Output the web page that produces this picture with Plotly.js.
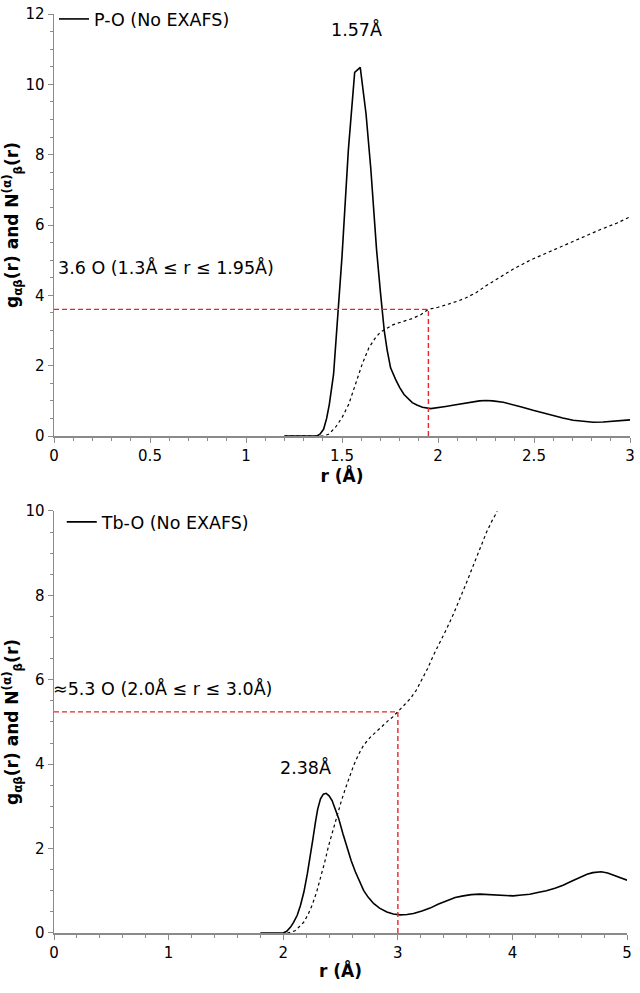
<!DOCTYPE html>
<html>
<head>
<meta charset="utf-8">
<script src="https://cdn.plot.ly/plotly-3.0.1.min.js"></script>
<style>html,body{margin:0;padding:0;background:#fff;}#chart{width:640px;height:993px;}</style>
</head>
<body>
<div id="chart"></div>
<script>
// ---- Top panel: P-O ----
const rPO = [1.20, 1.30, 1.37, 1.385, 1.404, 1.42, 1.434, 1.456, 1.479, 1.50, 1.533, 1.566, 1.595, 1.625, 1.65, 1.68, 1.70, 1.72, 1.735, 1.753, 1.779, 1.80, 1.823, 1.845, 1.866, 1.89, 1.919, 1.962, 2.0, 2.04, 2.085, 2.128, 2.17, 2.216, 2.25, 2.285, 2.34, 2.39, 2.44, 2.495, 2.55, 2.60, 2.65, 2.704, 2.76, 2.809, 2.86, 2.914, 2.96, 3.0];
const gPO = [0, 0, 0, 0.05, 0.19, 0.5, 0.90, 1.75, 3.36, 5.1, 8.13, 10.34, 10.48, 9.17, 7.6, 5.3, 4.1, 3.0, 2.45, 1.94, 1.61, 1.38, 1.18, 1.05, 0.95, 0.88, 0.82, 0.78, 0.80, 0.84, 0.88, 0.92, 0.96, 1.0, 1.01, 1.0, 0.96, 0.9, 0.82, 0.73, 0.65, 0.57, 0.51, 0.45, 0.41, 0.39, 0.40, 0.42, 0.44, 0.46];
const rPO_N = [1.20, 1.40, 1.43, 1.465, 1.50, 1.535, 1.57, 1.605, 1.64, 1.675, 1.70, 1.727, 1.76, 1.797, 1.83, 1.866, 1.91, 1.95, 2.0, 2.04, 2.1, 2.146, 2.2, 2.25, 2.32, 2.39, 2.48, 2.565, 2.65, 2.75, 2.85, 2.93, 3.0];
const nPO = [0, 0, 0.05, 0.24, 0.52, 0.9, 1.47, 2.04, 2.51, 2.8, 2.95, 3.05, 3.15, 3.22, 3.28, 3.34, 3.45, 3.6, 3.66, 3.72, 3.83, 3.93, 4.08, 4.27, 4.5, 4.74, 5.0, 5.2, 5.4, 5.65, 5.88, 6.05, 6.23];
const cutPO = {r: 1.95, n: 3.6};

// ---- Bottom panel: Tb-O ----
const rTbO = [1.80, 2.0, 2.03, 2.064, 2.09, 2.122, 2.15, 2.18, 2.21, 2.238, 2.26, 2.281, 2.30, 2.325, 2.35, 2.374, 2.40, 2.426, 2.455, 2.484, 2.52, 2.557, 2.593, 2.629, 2.665, 2.701, 2.74, 2.788, 2.84, 2.904, 2.96, 3.02, 3.08, 3.136, 3.21, 3.281, 3.35, 3.426, 3.5, 3.571, 3.64, 3.716, 3.79, 3.861, 3.93, 4.006, 4.08, 4.151, 4.22, 4.296, 4.37, 4.441, 4.51, 4.586, 4.65, 4.701, 4.774, 4.83, 4.875, 4.94, 5.0];
const gTbO = [0, 0, 0.04, 0.14, 0.25, 0.42, 0.65, 0.97, 1.4, 1.84, 2.25, 2.63, 2.93, 3.18, 3.29, 3.31, 3.25, 3.14, 2.93, 2.71, 2.36, 2.0, 1.71, 1.45, 1.22, 1.01, 0.85, 0.70, 0.59, 0.50, 0.45, 0.43, 0.44, 0.46, 0.52, 0.59, 0.68, 0.77, 0.84, 0.88, 0.91, 0.92, 0.91, 0.89, 0.88, 0.88, 0.9, 0.92, 0.96, 1.0, 1.06, 1.13, 1.22, 1.31, 1.39, 1.43, 1.45, 1.42, 1.38, 1.32, 1.25];
const rTbO_N = [2.035, 2.07, 2.107, 2.14, 2.18, 2.215, 2.252, 2.29, 2.325, 2.36, 2.397, 2.433, 2.47, 2.506, 2.542, 2.578, 2.614, 2.655, 2.701, 2.76, 2.817, 2.87, 2.919, 2.96, 3.0, 3.05, 3.107, 3.16, 3.209, 3.26, 3.31, 3.37, 3.426, 3.485, 3.542, 3.6, 3.658, 3.716, 3.774, 3.82, 3.867];
const nTbO = [0, 0.02, 0.06, 0.14, 0.26, 0.43, 0.66, 0.96, 1.29, 1.66, 2.08, 2.44, 2.79, 3.12, 3.42, 3.71, 3.97, 4.22, 4.45, 4.64, 4.79, 4.92, 5.04, 5.13, 5.24, 5.37, 5.55, 5.75, 5.99, 6.27, 6.58, 6.9, 7.21, 7.56, 7.92, 8.31, 8.71, 9.1, 9.5, 9.76, 9.99];
const cutTbO = {r: 3.0, n: 5.24};

const FONT = 'DejaVu Sans, sans-serif';
const RED = '#e8242c';
const AXC = '#8a8a8a';
const ANN = 17.5;

const traces = [
  {x: rPO, y: gPO, mode: 'lines', name: 'P-O (No EXAFS)', line: {color: '#000', width: 1.6}, xaxis: 'x', yaxis: 'y', legend: 'legend'},
  {x: rPO_N, y: nPO, mode: 'lines', showlegend: false, line: {color: '#000', width: 1.2, dash: 'dot'}, xaxis: 'x', yaxis: 'y'},
  {x: [0, cutPO.r, cutPO.r], y: [cutPO.n, cutPO.n, 0], mode: 'lines', showlegend: false, line: {color: RED, width: 1.4, dash: '5px,3px'}, xaxis: 'x', yaxis: 'y'},
  {x: rTbO, y: gTbO, mode: 'lines', name: 'Tb-O (No EXAFS)', line: {color: '#000', width: 1.6}, xaxis: 'x2', yaxis: 'y2', legend: 'legend2'},
  {x: rTbO_N, y: nTbO, mode: 'lines', showlegend: false, line: {color: '#000', width: 1.2, dash: 'dot'}, xaxis: 'x2', yaxis: 'y2'},
  {x: [0, cutTbO.r, cutTbO.r], y: [cutTbO.n, cutTbO.n, 0], mode: 'lines', showlegend: false, line: {color: RED, width: 1.4, dash: '5px,3px'}, xaxis: 'x2', yaxis: 'y2'}
];

const ytitle = 'g<sub>αβ</sub>(r) and N<sup>(α)</sup><sub>β</sub>(r)';
function xax(range, dtick, minor, anchor, domain) {
  return {range: range, dtick: dtick, tick0: 0, ticks: 'outside', ticklen: 5, tickwidth: 1, tickcolor: AXC,
    minor: {dtick: minor, ticks: 'outside', ticklen: 3, tickcolor: AXC},
    showline: true, linecolor: AXC, linewidth: 1.5, showgrid: false, zeroline: false,
    tickfont: {family: FONT, size: 15, color: '#000'}, anchor: anchor, domain: domain,
    title: {text: 'r (Å)', font: {family: FONT, size: 17, color: '#000', weight: 'bold'}, standoff: 4}};
}
function yax(range, anchor, domain) {
  return {range: range, dtick: 2, tick0: 0, ticks: 'outside', ticklen: 5, tickwidth: 1, tickcolor: AXC,
    minor: {dtick: 0.5, ticks: 'outside', ticklen: 3, tickcolor: AXC},
    showline: true, linecolor: AXC, linewidth: 1.5, showgrid: false, zeroline: false,
    tickfont: {family: FONT, size: 15, color: '#000'}, anchor: anchor, domain: domain,
    title: {text: ytitle, font: {family: FONT, size: 17, color: '#000', weight: 'bold'}, standoff: 6}};
}

const layout = {
  width: 640, height: 993,
  margin: {l: 54, r: 10, t: 14, b: 60, autoexpand: false},
  paper_bgcolor: '#fff', plot_bgcolor: '#fff',
  font: {family: FONT, color: '#000'},
  xaxis: xax([0, 3], 0.5, 0.1, 'y', [0, 1]),
  yaxis: yax([0, 12], 'x', [0.5408, 1]),
  xaxis2: xax([0, 5], 1, 0.2, 'y2', [0, 0.995]),
  yaxis2: yax([0, 10], 'x2', [0, 0.4592]),
  legend: {x: 0.0, y: 1.0141, xanchor: 'left', yanchor: 'top', bgcolor: 'rgba(0,0,0,0)', font: {family: FONT, size: ANN}},
  legend2: {x: 0.0135, y: 0.4668, xanchor: 'left', yanchor: 'top', bgcolor: 'rgba(0,0,0,0)', font: {family: FONT, size: ANN}},
  annotations: [
    {x: 1.578, y: 11.55, xref: 'x', yref: 'y', text: '1.57Å', showarrow: false, font: {family: FONT, size: ANN, color: '#000'}},
    {x: 0.01, y: 4.78, xref: 'x', yref: 'y', text: '3.6 O (1.3Å ≤ r ≤ 1.95Å)', xanchor: 'left', showarrow: false, font: {family: FONT, size: ANN, color: '#000'}},
    {x: 2.19, y: 3.91, xref: 'x2', yref: 'y2', text: '2.38Å', showarrow: false, font: {family: FONT, size: ANN, color: '#000'}},
    {x: 0, y: 5.8, xref: 'x2', yref: 'y2', text: '≈5.3 O (2.0Å ≤ r ≤ 3.0Å)', xanchor: 'left', xshift: -3, showarrow: false, font: {family: FONT, size: ANN, color: '#000'}}
  ]
};

Plotly.newPlot('chart', traces, layout, {staticPlot: true, displayModeBar: false});
</script>
</body>
</html>
